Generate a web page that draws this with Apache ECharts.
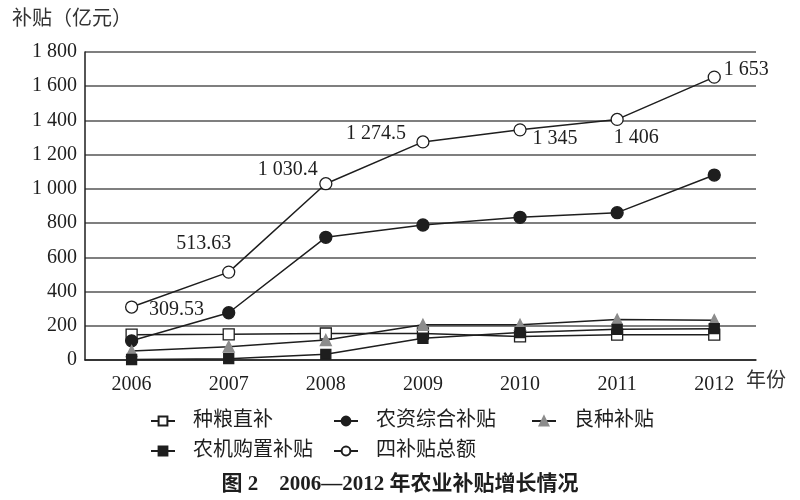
<!DOCTYPE html>
<html>
<head>
<meta charset="utf-8">
<script src="https://cdn.jsdelivr.net/npm/echarts@6/dist/echarts.min.js"></script>
<style>
  html, body { margin: 0; padding: 0; background: #fff; }
  #chart { width: 800px; height: 500px; }
</style>
</head>
<body>
<div id="chart"></div>
<script>
// 2006—2012 年农业补贴（亿元）
const years = [2006, 2007, 2008, 2009, 2010, 2011, 2012]
const grainDirect = [148, 150, 155, 155, 138, 148, 148]       // 种粮直补
const inputsSubsidy = [112, 276, 717, 789, 834, 861, 1081]    // 农资综合补贴
const seedSubsidy = [52, 78, 117, 206, 206, 236, 233]         // 良种补贴
const machinery = [3, 8, 33, 127, 160, 179, 183]              // 农机购置补贴
const totalSubsidy = [309.53, 513.63, 1030.4, 1274.5, 1345, 1406, 1653] // 四补贴总额
const totalLabels = ['309.53', '513.63', '1 030.4', '1 274.5', '1 345', '1 406', '1 653']

const serif = '"Liberation Serif", "Noto Sans CJK SC", serif'
const ink = '#1e1e1e'

// label offsets from the point centre, per year
const labelOffsets = [[45, 3], [-25, -28], [-38, -14], [-47, -8], [35, 9], [19, 18], [32, -7]]

const pairs = (vals) => years.map((y, i) => [y, vals[i]])

const lineSeries = (name, vals, symbol, size, fill, border) => ({
  name: name,
  type: 'line',
  data: pairs(vals),
  symbol: symbol,
  symbolSize: size,
  showAllSymbol: true,
  lineStyle: { color: ink, width: 1.5 },
  itemStyle: { color: fill, borderColor: border, borderWidth: 1.3 },
  emphasis: { disabled: true },
  animation: false
})

const totalSeries = lineSeries('四补贴总额', totalSubsidy, 'circle', 12, '#fff', ink)
totalSeries.z = 5
totalSeries.data = years.map((y, i) => ({
  value: [y, totalSubsidy[i]],
  label: {
    show: true,
    position: 'inside',
    offset: labelOffsets[i],
    formatter: totalLabels[i],
    fontFamily: serif,
    fontSize: 20,
    color: ink
  }
}))

// one legend block per item so the two rows line up as in the print
const legendSpots = [
  ['种粮直补', 145, 406], ['农资综合补贴', 328, 406], ['良种补贴', 526, 406],
  ['农机购置补贴', 145, 436], ['四补贴总额', 328, 436]
]
const legends = legendSpots.map((s) => ({
  data: [s[0]],
  left: s[1],
  top: s[2],
  itemWidth: 24,
  itemHeight: 11,
  selectedMode: false,
  textStyle: { fontFamily: serif, fontSize: 20, color: ink, padding: [0, 0, 0, 13] }
}))

const chart = echarts.init(document.getElementById('chart'))
chart.setOption({
  backgroundColor: '#fff',
  animation: false,
  title: {
    text: '图 2　2006—2012 年农业补贴增长情况',
    left: 'center',
    top: 469,
    textStyle: { fontFamily: serif, fontSize: 21, fontWeight: 'bold', color: ink }
  },
  legend: legends,
  grid: { left: 85, right: 44, top: 52, bottom: 140 },
  xAxis: {
    type: 'value',
    min: 2005.52,
    max: 2012.43,
    splitLine: { show: false },
    axisTick: { show: false },
    axisLine: { show: true, onZero: false, lineStyle: { color: ink, width: 1.5 } },
    axisLabel: {
      customValues: years,
      margin: 15,
      fontFamily: serif,
      fontSize: 20,
      color: ink,
      formatter: (v) => String(v)
    }
  },
  yAxis: {
    type: 'value',
    min: 0,
    max: 1800,
    interval: 200,
    axisLine: { show: true, lineStyle: { color: ink, width: 1.5 } },
    axisTick: { show: false },
    splitLine: { lineStyle: { color: '#555', width: 1.5 } },
    axisLabel: {
      margin: 8,
      fontFamily: serif,
      fontSize: 20,
      color: ink,
      formatter: (v) => v >= 1000 ? Math.floor(v / 1000) + ' ' + String(v % 1000).padStart(3, '0') : String(v)
    }
  },
  graphic: [
    {
      type: 'text',
      left: 12,
      top: 10,
      style: { text: '补贴（亿元）', font: '20px ' + serif, fill: '#333' }
    },
    {
      type: 'text',
      left: 746,
      top: 372,
      style: { text: '年份', font: '20px ' + serif, fill: '#333' }
    }
  ],
  series: [
    lineSeries('种粮直补', grainDirect, 'rect', 11, '#fff', ink),
    lineSeries('农资综合补贴', inputsSubsidy, 'circle', 12, ink, ink),
    lineSeries('良种补贴', seedSubsidy, 'triangle', 11, '#8c8c8c', '#8c8c8c'),
    lineSeries('农机购置补贴', machinery, 'rect', 10, ink, ink),
    totalSeries
  ]
})
</script>
</body>
</html>
